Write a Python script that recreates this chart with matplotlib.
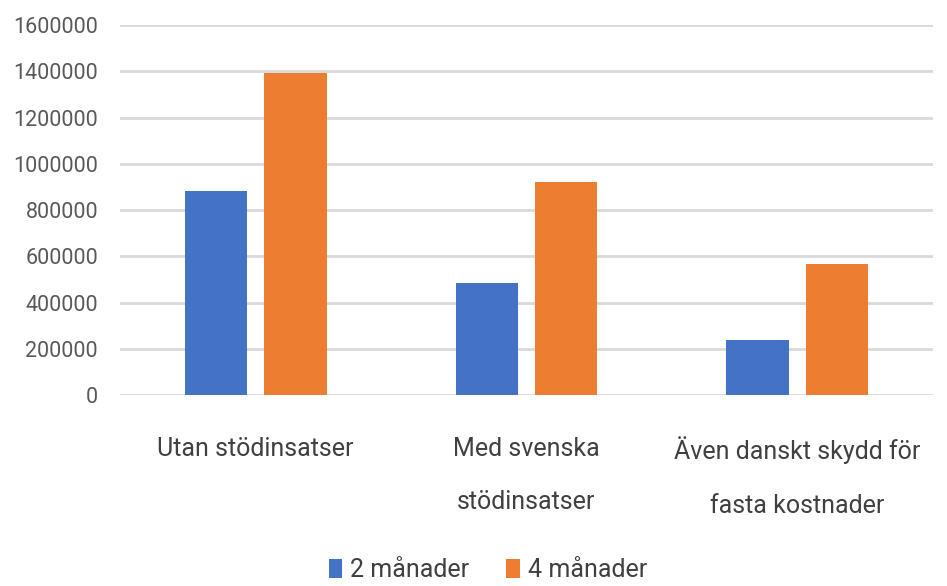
import matplotlib.pyplot as plt
import numpy as np

# Data
categories = ['Utan stödinsatser', 'Med svenska\nstödinsatser', 'Även danskt skydd för\nfasta kostnader']
series_names = ['2 månader', '4 månader']
two_months = [883000, 485000, 238000]
four_months = [1395000, 921000, 565000]
yticks = [0, 200000, 400000, 600000, 800000, 1000000, 1200000, 1400000, 1600000]

colors = ['#4472C4', '#ED7D31']

plt.rcParams['font.family'] = ['Roboto', 'DejaVu Sans']

fig = plt.figure(figsize=(9.47, 5.86), dpi=100)
ax = fig.add_axes([0.127, 0.326, 0.858, 0.631])

x = np.arange(len(categories))
width = 0.23
offset = 0.147
ax.bar(x - offset, two_months, width, color=colors[0], label=series_names[0], zorder=3)
ax.bar(x + offset, four_months, width, color=colors[1], label=series_names[1], zorder=3)

ax.set_xlim(-0.5, len(categories) - 0.5)
ax.set_ylim(0, 1600000)
ax.set_yticks(yticks)
ax.set_yticklabels([str(v) for v in yticks], fontsize=15.5, color='#595959')
ax.yaxis.grid(True, color='#d9d9d9', linewidth=2, zorder=0)
ax.set_axisbelow(True)
ax.tick_params(axis='y', length=0, pad=16)
ax.tick_params(axis='x', length=0, pad=30)
ax.set_xticks(x)
ax.set_xticklabels(categories, fontsize=18, color='#404040', linespacing=2.55)
for s in ax.spines.values():
    s.set_visible(False)

fig.legend(loc='center', bbox_to_anchor=(0.515, 0.027), ncol=2, frameon=False,
           fontsize=18, labelcolor='#404040', handlelength=0.55, handleheight=0.75,
           handletextpad=0.3, columnspacing=1.5)

fig.savefig('out.png', dpi=100)
